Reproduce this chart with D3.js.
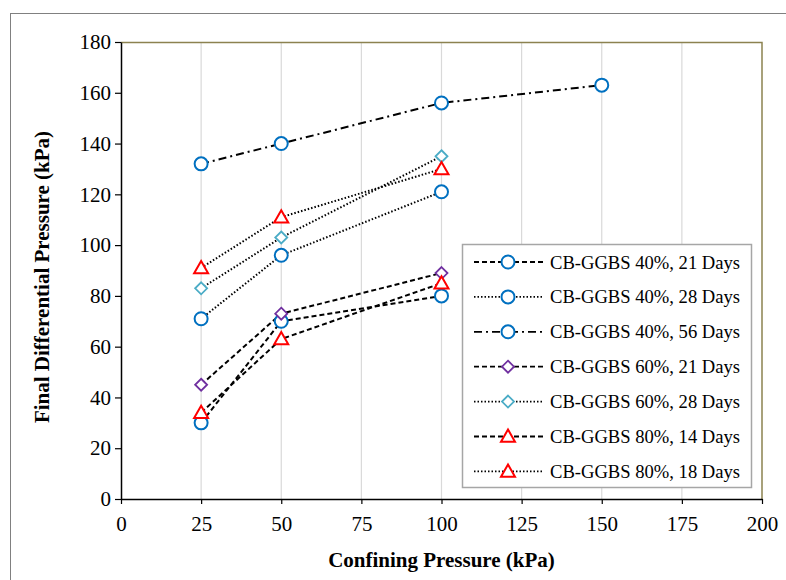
<!DOCTYPE html>
<html>
<head>
<meta charset="utf-8">
<script src="https://cdn.jsdelivr.net/npm/d3@7"></script>
<style>
  body { margin: 0; background: #fff; }
  text { font-family: "Liberation Serif", "Times New Roman", serif; }
</style>
</head>
<body>
<script>
// Data
var pressures = [25, 50, 100];
var pressures56 = [25, 50, 100, 150];
var s40d21 = [30, 70, 80];
var s40d28 = [71, 96, 121];
var s40d56 = [132, 140, 156, 163];
var s60d21 = [45, 73, 89];
var s60d28 = [83, 103, 135];
var s80d14 = [34, 63, 85];
var s80d18 = [91, 111, 130];
var seriesNames = [
  "CB-GGBS 40%, 21 Days", "CB-GGBS 40%, 28 Days", "CB-GGBS 40%, 56 Days",
  "CB-GGBS 60%, 21 Days", "CB-GGBS 60%, 28 Days",
  "CB-GGBS 80%, 14 Days", "CB-GGBS 80%, 18 Days"
];
var xTicks = [0, 25, 50, 75, 100, 125, 150, 175, 200];
var yTicks = [0, 20, 40, 60, 80, 100, 120, 140, 160, 180];

var svgWidth = 786;
var svgHeight = 580;
var margin = { top: 42, right: 24, bottom: 81, left: 121 };
var chartWidth = svgWidth - margin.left - margin.right;
var chartHeight = svgHeight - margin.top - margin.bottom;

var blue = "#0070C0", purple = "#7030A0", cyan = "#4BACC6", red = "#FF0000";
var dashed = "5,3", dotted = "1.5,2", dashDot = "8,4,2,4";

var series = [
  { name: seriesNames[0], x: pressures, y: s40d21, dash: dashed, marker: "circle", color: blue },
  { name: seriesNames[1], x: pressures, y: s40d28, dash: dotted, marker: "circle", color: blue },
  { name: seriesNames[2], x: pressures56, y: s40d56, dash: dashDot, marker: "circle", color: blue },
  { name: seriesNames[3], x: pressures, y: s60d21, dash: dashed, marker: "diamond", color: purple },
  { name: seriesNames[4], x: pressures, y: s60d28, dash: dotted, marker: "diamond", color: cyan },
  { name: seriesNames[5], x: pressures, y: s80d14, dash: dashed, marker: "triangle", color: red },
  { name: seriesNames[6], x: pressures, y: s80d18, dash: dotted, marker: "triangle", color: red }
];

var svg = d3.select("body")
  .append("svg")
  .attr("width", svgWidth)
  .attr("height", svgHeight);

// outer frame
svg.append("rect")
  .attr("x", 10.5).attr("y", 13.5)
  .attr("width", 800).attr("height", 600)
  .attr("fill", "none")
  .attr("stroke", "#808080")
  .attr("stroke-width", 1);

var chartGroup = svg.append("g")
  .attr("transform", `translate(${margin.left}, ${margin.top})`);

var xScale = d3.scaleLinear().domain([0, 200]).range([0, chartWidth]);
var yScale = d3.scaleLinear().domain([0, 180]).range([chartHeight, 0]);

// vertical gridlines
chartGroup.selectAll(".grid")
  .data(xTicks.slice(1, -1))
  .enter()
  .append("line")
  .attr("x1", d => xScale(d)).attr("x2", d => xScale(d))
  .attr("y1", 0).attr("y2", chartHeight)
  .attr("stroke", "#d9d9d9")
  .attr("stroke-width", 1.2);

// top and right plot border
chartGroup.append("path")
  .attr("d", `M0,0.5H${chartWidth}V${chartHeight}`)
  .attr("fill", "none")
  .attr("stroke", "#8c8250")
  .attr("stroke-width", 1.5);

var bottomAxis = d3.axisBottom(xScale).tickValues(xTicks).tickSize(5).tickSizeOuter(0);
var leftAxis = d3.axisLeft(yScale).tickValues(yTicks).tickSize(6).tickSizeOuter(0);

var yAxisG = chartGroup.append("g").call(leftAxis);
var xAxisG = chartGroup.append("g")
  .attr("transform", `translate(0, ${chartHeight})`)
  .call(bottomAxis);

[xAxisG, yAxisG].forEach(function(g) {
  g.select(".domain").attr("stroke", "#000").attr("stroke-width", 1.5);
  g.selectAll(".tick line").attr("stroke", "#000").attr("stroke-width", 1.2);
  g.selectAll(".tick text")
    .attr("font-family", "Liberation Serif")
    .attr("font-size", 21)
    .attr("fill", "#000");
});
xAxisG.selectAll(".tick text").attr("y", 14).attr("dy", "0.85em");
yAxisG.selectAll(".tick text").attr("x", -10);

// axis titles
svg.append("text")
  .attr("x", margin.left + chartWidth / 2)
  .attr("y", 567)
  .attr("text-anchor", "middle")
  .attr("font-size", 21)
  .attr("font-weight", "bold")
  .text("Confining Pressure (kPa)");

svg.append("text")
  .attr("transform", `translate(49, 277) rotate(-90)`)
  .attr("text-anchor", "middle")
  .attr("font-size", 21)
  .attr("font-weight", "bold")
  .text("Final Differential Pressure (kPa)");

function drawMarker(g, type, color, cx, cy) {
  if (type === "circle") {
    g.append("circle").attr("cx", cx).attr("cy", cy).attr("r", 6.5)
      .attr("fill", "#fff").attr("stroke", color).attr("stroke-width", 2);
  } else if (type === "diamond") {
    var s = 6;
    g.append("path")
      .attr("d", `M${cx},${cy - s}L${cx + s},${cy}L${cx},${cy + s}L${cx - s},${cy}Z`)
      .attr("fill", "#fff").attr("stroke", color).attr("stroke-width", 1.8);
  } else {
    var t = 7;
    g.append("path")
      .attr("d", `M${cx},${cy - t}L${cx + t},${cy + t * 0.75}L${cx - t},${cy + t * 0.75}Z`)
      .attr("fill", "#fff").attr("stroke", color).attr("stroke-width", 2);
  }
}

var line = d3.line().x(d => xScale(d[0])).y(d => yScale(d[1]));

series.forEach(function(s) {
  var pts = s.x.map((v, i) => [v, s.y[i]]);
  chartGroup.append("path")
    .datum(pts)
    .attr("d", line)
    .attr("fill", "none")
    .attr("stroke", "#000")
    .attr("stroke-width", 2)
    .attr("stroke-dasharray", s.dash);
});
series.forEach(function(s) {
  var g = chartGroup.append("g");
  s.x.forEach(function(v, i) {
    drawMarker(g, s.marker, s.color, xScale(v), yScale(s.y[i]));
  });
});

// legend
var legend = svg.append("g").attr("transform", "translate(462, 244)");
legend.append("rect")
  .attr("x", 0.5).attr("y", 0.5)
  .attr("width", 289).attr("height", 243)
  .attr("fill", "#fff")
  .attr("stroke", "#a6a6a6")
  .attr("stroke-width", 1.5);

series.forEach(function(s, i) {
  var y = 18 + i * 34.9;
  legend.append("line")
    .attr("x1", 12).attr("x2", 82)
    .attr("y1", y).attr("y2", y)
    .attr("stroke", "#000")
    .attr("stroke-width", 1.8)
    .attr("stroke-dasharray", s.dash);
  drawMarker(legend, s.marker, s.color, 46, y);
  legend.append("text")
    .attr("x", 88).attr("y", y)
    .attr("dy", "0.35em")
    .attr("font-size", 18.6)
    .attr("fill", "#000")
    .text(s.name);
});
</script>
</body>
</html>
